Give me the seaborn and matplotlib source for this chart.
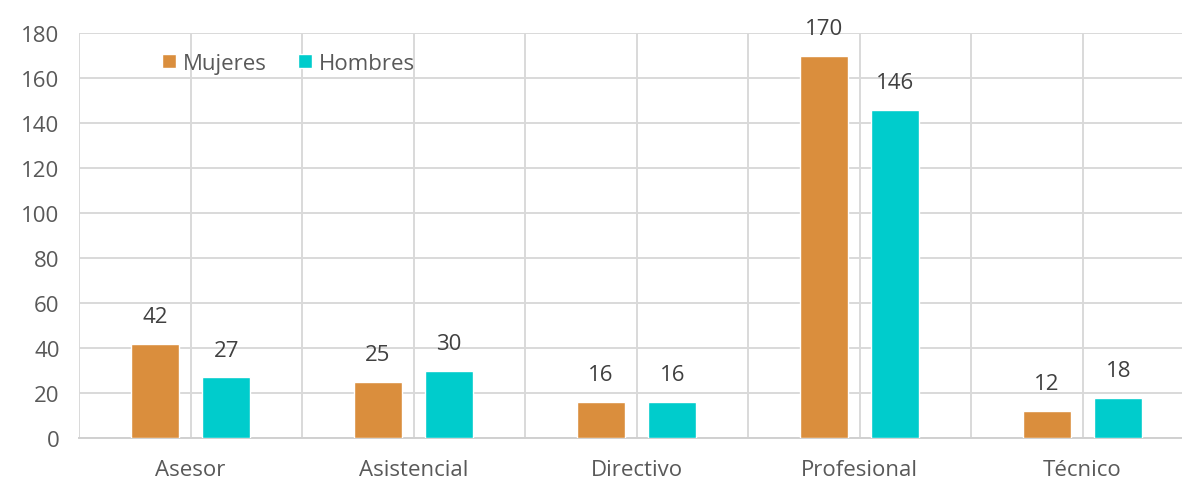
import matplotlib
matplotlib.use("Agg")
import matplotlib.pyplot as plt
import seaborn as sns
import pandas as pd
from matplotlib.ticker import MultipleLocator

categorias = ["Asesor", "Asistencial", "Directivo", "Profesional", "Técnico"]
mujeres = [42, 25, 16, 170, 12]
hombres = [27, 30, 16, 146, 18]
series = ["Mujeres", "Hombres"]
colores = {"Mujeres": "#DA8E3D", "Hombres": "#00CCCC"}

df = pd.DataFrame({
    "Cargo": categorias * 2,
    "Sexo": [series[0]] * len(categorias) + [series[1]] * len(categorias),
    "Total": mujeres + hombres,
})

sns.set_style("white")
plt.rcParams["font.family"] = ["Open Sans", "DejaVu Sans"]

fig = plt.figure(figsize=(11.82, 4.85), dpi=100)
ax = fig.add_axes([79 / 1182, 1 - 439 / 485, 1 - 79 / 1182, (439 - 34) / 485])

sns.barplot(data=df, x="Cargo", y="Total", hue="Sexo", palette=colores,
            order=categorias, hue_order=series, width=0.64, gap=0.325,
            saturation=1, ax=ax, zorder=3)

ax.set_ylim(0, 180)
ax.yaxis.set_major_locator(MultipleLocator(20))
ax.set_xticks(list(range(len(categorias))))
ax.set_xticks([i * 0.5 - 0.5 for i in range(10)], minor=True)
ax.set_xlim(-0.5, 4.446)
ax.grid(axis="y", which="major", color="#D9D9D9", linewidth=1.4, zorder=0)
ax.grid(axis="x", which="both", color="#D9D9D9", linewidth=1.4, zorder=0)
ax.set_axisbelow(True)
ax.tick_params(axis="both", which="both", length=0)
ax.tick_params(axis="y", labelsize=16, labelcolor="#595959", pad=14)
ax.tick_params(axis="x", labelsize=16, labelcolor="#595959", pad=15)
ax.set_xlabel("")
ax.set_ylabel("")
for s in ["top", "right", "left"]:
    ax.spines[s].set_visible(False)
ax.spines["bottom"].set_color("#D0D0D0")
ax.spines["bottom"].set_linewidth(1.4)

for cont in ax.containers:
    ax.bar_label(cont, labels=[f"{int(v)}" for v in cont.datavalues],
                 padding=12, fontsize=16, color="#404040")

handles, labels = ax.get_legend_handles_labels()
ax.legend(handles, labels, loc="center", bbox_to_anchor=(0.19, 0.925),
          ncol=2, frameon=False, fontsize=16, handlelength=0.65,
          handleheight=0.65, handletextpad=0.3, columnspacing=1.4,
          labelcolor="#595959")

fig.savefig("out.png", dpi=100)
